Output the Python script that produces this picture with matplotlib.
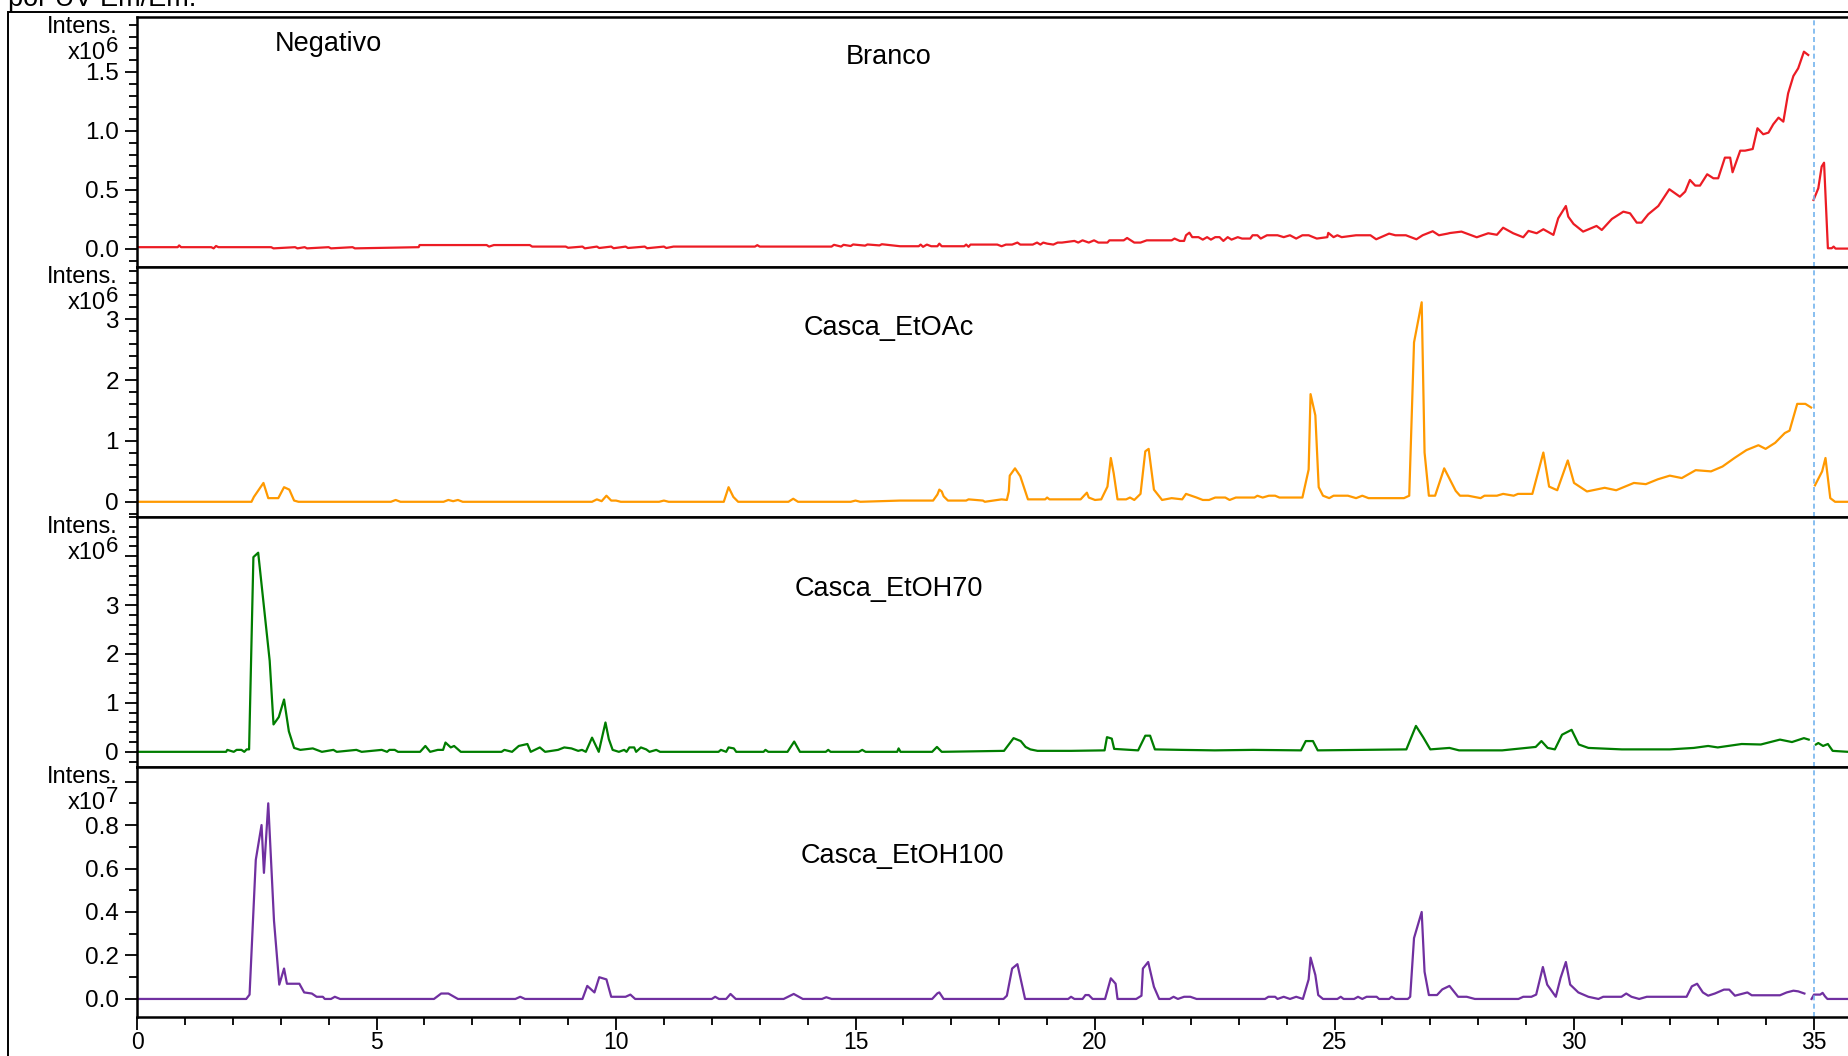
import numpy as np
import matplotlib
matplotlib.use('Agg')
import matplotlib.pyplot as plt
from matplotlib.patches import Rectangle
from matplotlib.ticker import FixedLocator, FixedFormatter, MultipleLocator

plt.rcParams['font.family'] = ['Liberation Sans', 'DejaVu Sans']

nan = np.nan

# Branco (x10^6)
t_branco = [0, 0.85, 0.88, 0.92, 1.55, 1.6, 1.65, 1.7, 2.8, 2.85, 3.3, 3.35, 3.5, 3.55,
            4.0, 4.05, 4.5, 4.55, 5.88, 5.9, 7.3, 7.35, 7.45, 8.2, 8.25, 8.95, 9.0, 9.3,
            9.35, 9.6, 9.65, 9.9, 9.95, 10.2, 10.25, 10.6, 10.65, 11.0, 11.05, 11.2, 11.25,
            12.9, 12.95, 13.0, 14.5, 14.55, 14.7, 14.75, 14.9, 14.95, 15.2, 15.25, 15.5,
            15.55, 15.93,
            16.32, 16.36, 16.41, 16.49, 16.58, 16.71, 16.75, 16.80, 17.27, 17.31, 17.36, 17.40,
            17.96, 18.05, 18.14, 18.27, 18.38, 18.44, 18.70, 18.79, 18.86, 18.92, 19.0, 19.13,
            19.22, 19.31, 19.57, 19.65, 19.74, 19.87, 19.98, 20.07, 20.26, 20.30, 20.60, 20.67,
            20.82, 20.95, 21.08, 21.60, 21.66, 21.77, 21.86, 21.90, 21.97, 22.03, 22.16, 22.25,
            22.34, 22.42, 22.51, 22.60, 22.68, 22.77, 22.85, 22.98, 23.07, 23.24, 23.29, 23.39,
            23.46, 23.59, 23.81, 23.94, 24.07, 24.20, 24.33, 24.46, 24.63, 24.85, 24.87, 24.98,
            25.06, 25.15, 25.45, 25.75, 25.87, 26.14, 26.27, 26.49, 26.71, 26.84, 27.05, 27.18,
            27.36, 27.41, 27.65, 27.97, 28.21, 28.39, 28.52, 28.73, 28.94, 29.05, 29.22, 29.36,
            29.57, 29.67, 29.83, 29.88, 29.99, 30.19, 30.47, 30.58, 30.79, 31.03, 31.17, 31.31,
            31.41, 31.55, 31.76, 31.99, 32.21, 32.32, 32.42, 32.53, 32.63, 32.78, 32.91, 33.01,
            33.15, 33.26, 33.31, 33.47, 33.57, 33.73, 33.83, 33.95, 34.06, 34.16, 34.27, 34.37,
            34.47, 34.58, 34.68, 34.80, 34.89, 34.95,
            35.0, 35.1, 35.17, 35.22, 35.30, 35.38, 35.42, 35.46, 35.72]
i_branco = [0.015, 0.015, 0.03, 0.015, 0.015, 0.005, 0.025, 0.015, 0.015, 0.005, 0.015, 0.005,
            0.015, 0.005, 0.015, 0.005, 0.015, 0.005, 0.015, 0.033, 0.033, 0.02, 0.033, 0.033,
            0.02, 0.02, 0.01, 0.02, 0.005, 0.02, 0.008, 0.02, 0.006, 0.02, 0.008, 0.02, 0.006,
            0.02, 0.008, 0.02, 0.02, 0.02, 0.032, 0.02, 0.02, 0.035, 0.02, 0.035, 0.025, 0.038,
            0.028, 0.038, 0.03, 0.04, 0.023,
            0.023, 0.037, 0.018, 0.037, 0.023, 0.023, 0.045, 0.023, 0.023, 0.037, 0.018, 0.037,
            0.037, 0.023, 0.037, 0.037, 0.054, 0.037, 0.037, 0.054, 0.037, 0.054, 0.045, 0.037,
            0.054, 0.054, 0.068, 0.054, 0.073, 0.054, 0.073, 0.054, 0.054, 0.073, 0.073, 0.093,
            0.054, 0.054, 0.073, 0.073, 0.088, 0.068, 0.068, 0.116, 0.138, 0.10, 0.10, 0.079,
            0.10, 0.079, 0.10, 0.10, 0.068, 0.10, 0.079, 0.10, 0.088, 0.088, 0.116, 0.116,
            0.088, 0.116, 0.116, 0.10, 0.116, 0.088, 0.116, 0.116, 0.088, 0.10, 0.136, 0.10,
            0.116, 0.10, 0.116, 0.116, 0.082, 0.13, 0.116, 0.116, 0.082, 0.116, 0.15, 0.116,
            0.13, 0.135, 0.147, 0.099, 0.133, 0.12, 0.18, 0.133, 0.099, 0.153, 0.133, 0.167,
            0.119, 0.26, 0.364, 0.274, 0.212, 0.147, 0.195, 0.161, 0.254, 0.316, 0.302, 0.223,
            0.223, 0.294, 0.364, 0.506, 0.443, 0.486, 0.585, 0.537, 0.537, 0.633, 0.599, 0.599,
            0.774, 0.774, 0.65, 0.833, 0.833, 0.847, 1.023, 0.972, 0.986, 1.057, 1.113, 1.079,
            1.319, 1.466, 1.531, 1.672, 1.644, nan,
            0.415, 0.514, 0.698, 0.731, 0.006, 0.006, 0.02, 0.003, 0.003]

# Casca_EtOAc (x10^6)
t_etoac = [0, 2.39, 2.44, 2.64, 2.74, 2.95, 3.07, 3.18, 3.28, 3.37, 5.3, 5.4, 5.5, 6.4, 6.5, 6.6,
           6.7, 6.8, 9.5, 9.6, 9.7, 9.8, 9.9, 10.0, 10.1, 10.9, 11.0, 11.1, 12.25, 12.35, 12.45,
           12.55, 13.6, 13.7, 13.8, 14.9, 15.0, 15.1, 15.93,
           16.62, 16.71, 16.75, 16.80, 16.84, 16.93, 17.31, 17.36, 17.66, 17.70, 18.05, 18.16,
           18.20, 18.22, 18.33, 18.44, 18.60, 18.96, 19.0, 19.05, 19.70, 19.83, 19.87, 20.0,
           20.13, 20.26, 20.33, 20.39, 20.47, 20.65, 20.73, 20.82, 20.95, 21.05, 21.12, 21.23,
           21.40, 21.60, 21.82, 21.90, 22.12, 22.25, 22.38, 22.51, 22.72, 22.81, 22.94, 23.33,
           23.39, 23.50, 23.63, 23.76, 23.85, 24.33, 24.46, 24.50, 24.60, 24.67, 24.76, 24.89,
           24.98, 25.28, 25.45, 25.58, 25.71, 26.45, 26.56, 26.66, 26.82, 26.88, 26.97, 27.10,
           27.29, 27.40, 27.53, 27.62, 27.79, 28.05, 28.13, 28.39, 28.52, 28.74, 28.83, 29.13,
           29.36, 29.48, 29.65, 29.87, 30.0, 30.27, 30.64, 30.88, 31.25, 31.5, 31.75, 32.0,
           32.25, 32.54, 32.86, 33.1, 33.35, 33.6, 33.85, 34.0, 34.2, 34.4, 34.5, 34.66, 34.83,
           34.95, 34.98,
           35.03, 35.18, 35.25, 35.35, 35.45, 35.72]
i_etoac = [0, 0, 0.08, 0.31, 0.06, 0.06, 0.24, 0.2, 0.02, 0, 0, 0.03, 0, 0, 0.03, 0.01, 0.03, 0,
           0, 0.04, 0.01, 0.1, 0.02, 0.02, 0, 0, 0.02, 0, 0, 0.24, 0.08, 0, 0, 0.05, 0, 0, 0.02,
           0, 0.02,
           0.02, 0.12, 0.2, 0.17, 0.09, 0.02, 0.02, 0.04, 0.02, 0.0, 0.04, 0.03, 0.17, 0.43,
           0.55, 0.42, 0.04, 0.04, 0.07, 0.04, 0.04, 0.15, 0.07, 0.03, 0.04, 0.25, 0.72, 0.47,
           0.04, 0.04, 0.07, 0.03, 0.13, 0.83, 0.87, 0.2, 0.03, 0.06, 0.04, 0.13, 0.07, 0.03,
           0.03, 0.07, 0.07, 0.03, 0.07, 0.07, 0.1, 0.07, 0.1, 0.1, 0.07, 0.07, 0.53, 1.77,
           1.42, 0.24, 0.1, 0.06, 0.1, 0.1, 0.06, 0.1, 0.06, 0.06, 0.1, 2.62, 3.28, 0.81, 0.1,
           0.1, 0.55, 0.38, 0.18, 0.1, 0.1, 0.06, 0.1, 0.1, 0.13, 0.1, 0.13, 0.13, 0.81, 0.25,
           0.19, 0.68, 0.31, 0.17, 0.23, 0.19, 0.31, 0.29, 0.37, 0.43, 0.39, 0.52, 0.5, 0.58,
           0.72, 0.85, 0.93, 0.87, 0.97, 1.13, 1.17, 1.61, 1.61, 1.55, nan,
           0.27, 0.5, 0.72, 0.06, 0.0, 0.0]

# Casca_EtOH70 (x10^6)
t_etoh70 = [0, 1.86, 1.885, 2.02, 2.08, 2.18, 2.24, 2.29, 2.34, 2.43, 2.53, 2.77, 2.85, 2.96,
            3.07, 3.17, 3.28, 3.41, 3.67, 3.86, 4.10, 4.17, 4.58, 4.69, 5.11, 5.22, 5.27, 5.38,
            5.45, 5.91, 6.02, 6.12, 6.28, 6.39, 6.44, 6.55, 6.62, 6.76, 7.61, 7.67, 7.83, 7.97,
            8.15, 8.22, 8.41, 8.52, 8.79, 8.92, 9.07, 9.21, 9.29, 9.37, 9.50, 9.64, 9.78, 9.85,
            9.93, 10.06, 10.17, 10.22, 10.28, 10.38, 10.42, 10.52, 10.63, 10.70, 10.84, 10.92,
            12.14, 12.19, 12.30, 12.35, 12.46, 12.51, 13.08, 13.12, 13.18, 13.58, 13.72, 13.84,
            14.38, 14.43, 14.48, 15.07, 15.14, 15.21, 15.87, 15.90, 15.94, 16.6, 16.7, 16.8,
            18.1, 18.2, 18.3, 18.45, 18.55, 18.65, 18.8, 19.5, 20.2, 20.25, 20.35, 20.4, 20.9,
            21.05, 21.15, 21.25, 21.8, 22.5, 23.3, 24.3, 24.4, 24.55, 24.65, 25.5, 26.5, 26.7,
            26.85, 27.0, 27.4, 27.6, 28.5, 29.2, 29.32, 29.45, 29.6, 29.75, 29.95, 30.1, 30.3,
            31.0, 32.0, 32.5, 32.8, 33.0, 33.5, 33.9, 34.3, 34.55, 34.8, 34.9, 34.98,
            35.05, 35.1, 35.2, 35.3, 35.4, 35.72]
i_etoh70 = [0, 0, 0.04, 0, 0.04, 0.04, 0, 0.05, 0.05, 3.98, 4.07, 1.86, 0.56, 0.71, 1.07, 0.42,
            0.08, 0.04, 0.07, 0, 0.04, 0, 0.04, 0, 0.04, 0, 0.04, 0.04, 0, 0, 0.12, 0, 0.04,
            0.04, 0.19, 0.09, 0.12, 0, 0, 0.04, 0, 0.12, 0.16, 0, 0.09, 0, 0.04, 0.09, 0.07,
            0.02, 0.04, 0, 0.29, 0, 0.6, 0.26, 0.04, 0, 0.04, 0, 0.09, 0.09, 0, 0.09, 0.05, 0,
            0.04, 0, 0, 0.04, 0, 0.09, 0.07, 0, 0, 0.04, 0, 0, 0.21, 0, 0, 0.04, 0, 0, 0.04, 0,
            0, 0.07, 0, 0, 0.1, 0,
            0.02, 0.15, 0.28, 0.22, 0.1, 0.05, 0.02, 0.02, 0.03, 0.3, 0.27, 0.06, 0.03, 0.33,
            0.33, 0.05, 0.04, 0.03, 0.04, 0.03, 0.22, 0.22, 0.03, 0.04, 0.05, 0.53, 0.3, 0.05,
            0.08, 0.03, 0.03, 0.1, 0.22, 0.08, 0.05, 0.35, 0.45, 0.15, 0.08, 0.05, 0.05, 0.08,
            0.12, 0.09, 0.16, 0.15, 0.25, 0.2, 0.28, 0.25, nan,
            0.15, 0.18, 0.12, 0.16, 0.02, 0.0]

# Casca_EtOH100 (x10^7)
t_etoh100 = [0, 2.28, 2.35, 2.48, 2.60, 2.65, 2.74, 2.86, 2.97, 3.07, 3.13, 3.39, 3.49, 3.65,
             3.75, 3.88, 3.92, 4.05, 4.13, 4.24, 6.2, 6.35, 6.5, 6.7, 7.9, 8.0, 8.1, 9.3, 9.4,
             9.55, 9.65, 9.8, 9.9, 10.2, 10.3, 10.4, 12.0, 12.07, 12.15, 12.3, 12.39, 12.5,
             13.5, 13.71, 13.9, 14.3, 14.39, 14.5, 16.6, 16.71, 16.75, 16.84,
             18.09, 18.16, 18.20, 18.27, 18.38, 18.48, 18.54, 19.44, 19.50, 19.57, 19.74, 19.80,
             19.87, 19.95, 20.21, 20.26, 20.33, 20.43, 20.47, 20.86, 20.97, 21.0, 21.11, 21.23,
             21.34, 21.56, 21.64, 21.73, 21.86, 21.99, 22.12, 23.55, 23.62, 23.76, 23.81, 23.94,
             24.07, 24.20, 24.34, 24.46, 24.50, 24.60, 24.66, 24.76, 25.06, 25.13, 25.19, 25.41,
             25.49, 25.58, 25.67, 25.88, 25.93, 26.14, 26.19, 26.27, 26.53, 26.58, 26.66, 26.82,
             26.88, 26.97, 27.14, 27.25, 27.40, 27.58, 27.76, 27.93, 28.84, 28.94, 29.11, 29.21,
             29.35, 29.44, 29.62, 29.72, 29.83, 29.92, 30.09, 30.30, 30.51, 30.61, 30.99, 31.09,
             31.20, 31.36, 31.52, 32.35, 32.46, 32.57, 32.69, 32.80, 32.94, 33.13, 33.24, 33.36,
             33.62, 33.71, 34.30, 34.44, 34.58, 34.68, 34.81, 34.9,
             34.96, 35.01, 35.14, 35.19, 35.24, 35.29, 35.72]
i_etoh100 = [0, 0, 0.02, 0.64, 0.80, 0.58, 0.90, 0.36, 0.066, 0.14, 0.07, 0.07, 0.03, 0.025,
             0.01, 0.01, 0, 0, 0.01, 0, 0, 0.025, 0.025, 0, 0, 0.01, 0, 0, 0.06, 0.03, 0.1, 0.09,
             0.01, 0.01, 0.02, 0, 0, 0.01, 0, 0, 0.023, 0, 0, 0.023, 0, 0, 0.008, 0, 0, 0.026,
             0.03, 0,
             0, 0.015, 0.06, 0.14, 0.16, 0.06, 0, 0, 0.01, 0, 0, 0.018, 0.018, 0, 0, 0.04, 0.095,
             0.07, 0, 0, 0.015, 0.14, 0.17, 0.056, 0, 0, 0.01, 0, 0.01, 0.01, 0, 0, 0.01, 0.01,
             0, 0.01, 0, 0.01, 0, 0.09, 0.19, 0.11, 0.018, 0, 0, 0.01, 0, 0, 0.01, 0, 0.01, 0.01,
             0, 0, 0.01, 0, 0, 0.01, 0.28, 0.40, 0.125, 0.018, 0.018, 0.044, 0.06, 0.01, 0.01, 0,
             0, 0.01, 0.01, 0.02, 0.147, 0.066, 0.01, 0.097, 0.17, 0.066, 0.03, 0.01, 0, 0.01,
             0.01, 0.025, 0.01, 0, 0.01, 0.01, 0.058, 0.07, 0.03, 0.015, 0.025, 0.043, 0.043,
             0.015, 0.03, 0.017, 0.017, 0.03, 0.038, 0.035, 0.025, nan,
             0.0, 0.02, 0.02, 0.028, 0.012, 0.0, 0.0]

names = ['Branco', 'Casca_EtOAc', 'Casca_EtOH70', 'Casca_EtOH100']
colors = ['#ec1c24', '#ff9900', '#007d00', '#7030a0']
exps = ['6', '6', '6', '7']
series = [(t_branco, i_branco), (t_etoac, i_etoac), (t_etoh70, i_etoh70), (t_etoh100, i_etoh100)]
ylims = [(-0.153, 1.966), (-0.25, 3.86), (-0.31, 4.8), (-0.083, 1.067)]
major = [[0, 0.5, 1.0, 1.5], [0, 1, 2, 3], [0, 1, 2, 3, 4], [0, 0.2, 0.4, 0.6, 0.8, 1.0]]
major_lbl = [['0.0', '0.5', '1.0', '1.5'], ['0', '1', '2', '3'], ['0', '1', '2', '3', ''],
             ['0.0', '0.2', '0.4', '0.6', '0.8', '']]
minor = [0.1, 0.2, 0.2, 0.1]
label_dy = [40, 61, 72, 89]   # label centre below panel top, px
label_x = [889, 889, 889, 902]

W, H = 1848, 1056
fig = plt.figure(figsize=(W / 100, H / 100), dpi=100)

# outer frame (extends past right/bottom edge)
fig.patches.append(Rectangle((8 / W, -0.1), 1.2, 1 - 12 / H + 0.1, transform=fig.transFigure,
                             fill=False, edgecolor='black', linewidth=1.4))

left = 137 / W
top_px = 17
ph = 250
for k in range(4):
    top = top_px + k * ph
    ax = fig.add_axes([left, 1 - (top + ph) / H, 1.0 - left, ph / H])
    t, y = series[k]
    ax.plot(t, y, color=colors[k], linewidth=1.6)
    ax.axvline(35.0, color='#74b4ee', linestyle=(0, (3, 2)), linewidth=1.2)
    ax.set_xlim(0, 35.72)
    ax.set_ylim(*ylims[k])
    ax.spines['right'].set_visible(False)
    for s in ['left', 'top', 'bottom']:
        ax.spines[s].set_linewidth(1.8)
    ax.yaxis.set_major_locator(FixedLocator(major[k]))
    ax.yaxis.set_major_formatter(FixedFormatter(major_lbl[k]))
    ax.yaxis.set_minor_locator(MultipleLocator(minor[k]))
    ax.tick_params(axis='y', which='major', direction='out', length=9, width=1.3,
                   labelsize=17.5, pad=4)
    ax.tick_params(axis='y', which='minor', direction='out', length=6, width=1.3)
    if k < 3:
        ax.set_xticks([])
    else:
        ax.set_xticks([0, 5, 10, 15, 20, 25, 30, 35])
        ax.xaxis.set_minor_locator(MultipleLocator(1))
        ax.tick_params(axis='x', which='major', direction='out', length=9, width=1.3,
                       labelsize=16.5, pad=1)
        ax.tick_params(axis='x', which='minor', direction='out', length=6, width=1.3)

    # "Intens." and "x10^n" labels
    fig.text(118 / W, 1 - (top + 10) / H, 'Intens.', ha='right', va='center', fontsize=17)
    fig.text(106 / W, 1 - (top + 36) / H, 'x10', ha='right', va='center', fontsize=17)
    fig.text(106 / W, 1 - (top + 29) / H, exps[k], ha='left', va='center', fontsize=16)

    fig.text(label_x[k] / W, 1 - (top + label_dy[k]) / H, names[k], ha='center',
             va='center', fontsize=19.5)

fig.text(275 / W, 1 - 44 / H, 'Negativo', ha='left', va='center', fontsize=19.5)
fig.text(8 / W, 1 - 6 / H, 'por UV Em/Em.', ha='left', va='baseline', fontsize=19.5)

fig.savefig('out.png', dpi=100)
